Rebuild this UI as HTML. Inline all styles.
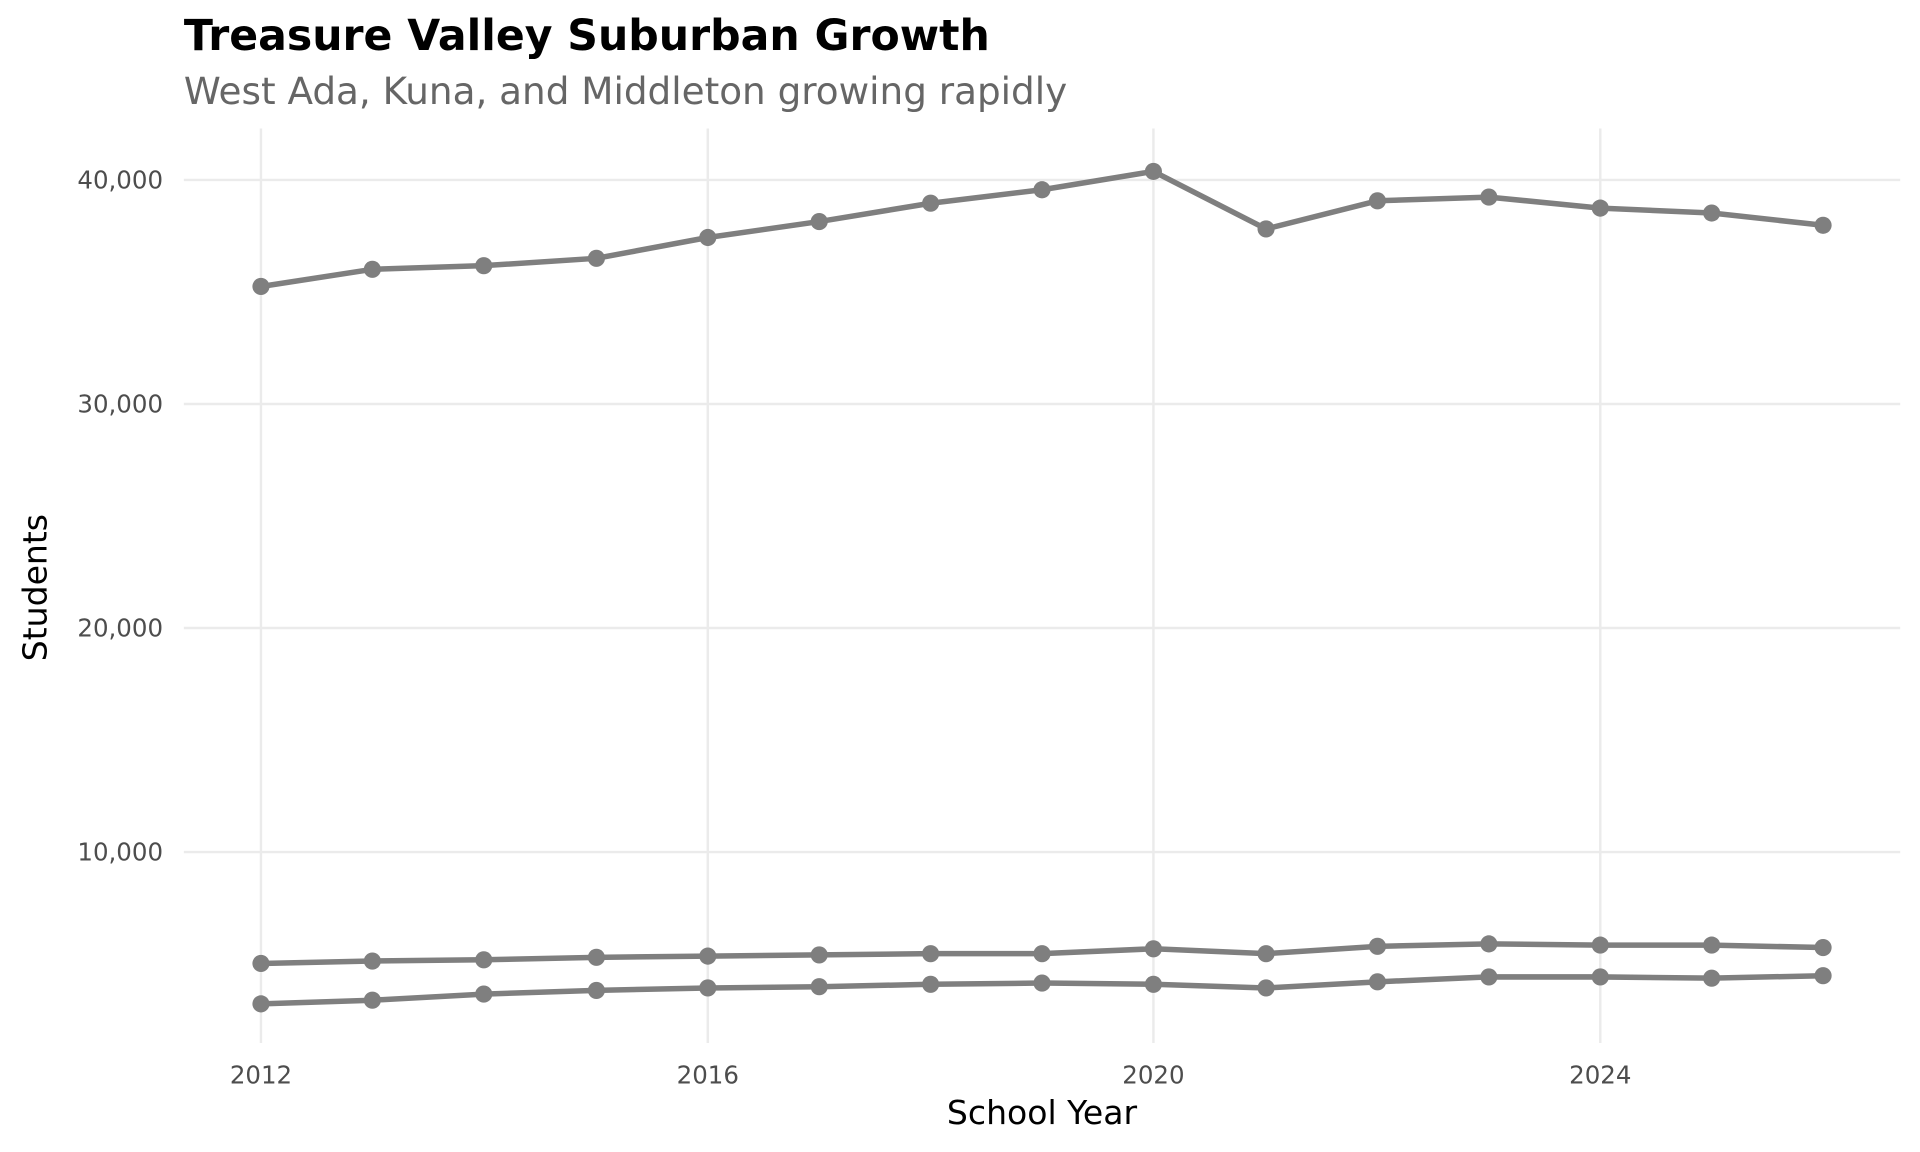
<!DOCTYPE html>
<html><head><meta charset="utf-8"><style>
html,body{margin:0;padding:0;background:#fff;}
svg{display:block;}
text{font-family:"DejaVu Sans","Liberation Sans",sans-serif;}
</style></head><body>
<svg width="1920" height="1152" viewBox="0 0 1568 941" xmlns="http://www.w3.org/2000/svg">
<rect width="1568" height="941" fill="#fff"/>
<g stroke="#ebebeb" stroke-width="2">
<line x1="150" x2="1552" y1="147" y2="147"/>
<line x1="150" x2="1552" y1="330" y2="330"/>
<line x1="150" x2="1552" y1="513" y2="513"/>
<line x1="150" x2="1552" y1="696" y2="696"/>
<line x1="213" x2="213" y1="105" y2="852"/>
<line x1="578" x2="578" y1="105" y2="852"/>
<line x1="942" x2="942" y1="105" y2="852"/>
<line x1="1307" x2="1307" y1="105" y2="852"/>
</g>
<g fill="none" stroke="#7f7f7f" stroke-width="4.5" stroke-linejoin="round">
<polyline points="213,234 304,220 395,217 487,211 578,194 669,181 760,166 851,155 942,140 1034,187 1125,164 1216,161 1307,170 1398,174 1489,184"/>
<polyline points="213,787 304,785 395,784 487,782 578,781 669,780 760,779 851,779 942,775 1034,779 1125,773 1216,771 1307,772 1398,772 1489,774"/>
<polyline points="213,820 304,817 395,812 487,809 578,807 669,806 760,804 851,803 942,804 1034,807 1125,802 1216,798 1307,798 1398,799 1489,797"/>
</g>
<g fill="#7f7f7f">
<circle cx="213" cy="234" r="7"/><circle cx="304" cy="220" r="7"/><circle cx="395" cy="217" r="7"/><circle cx="487" cy="211" r="7"/><circle cx="578" cy="194" r="7"/><circle cx="669" cy="181" r="7"/><circle cx="760" cy="166" r="7"/><circle cx="851" cy="155" r="7"/><circle cx="942" cy="140" r="7"/><circle cx="1034" cy="187" r="7"/><circle cx="1125" cy="164" r="7"/><circle cx="1216" cy="161" r="7"/><circle cx="1307" cy="170" r="7"/><circle cx="1398" cy="174" r="7"/><circle cx="1489" cy="184" r="7"/>
<circle cx="213" cy="787" r="7"/><circle cx="304" cy="785" r="7"/><circle cx="395" cy="784" r="7"/><circle cx="487" cy="782" r="7"/><circle cx="578" cy="781" r="7"/><circle cx="669" cy="780" r="7"/><circle cx="760" cy="779" r="7"/><circle cx="851" cy="779" r="7"/><circle cx="942" cy="775" r="7"/><circle cx="1034" cy="779" r="7"/><circle cx="1125" cy="773" r="7"/><circle cx="1216" cy="771" r="7"/><circle cx="1307" cy="772" r="7"/><circle cx="1398" cy="772" r="7"/><circle cx="1489" cy="774" r="7"/>
<circle cx="213" cy="820" r="7"/><circle cx="304" cy="817" r="7"/><circle cx="395" cy="812" r="7"/><circle cx="487" cy="809" r="7"/><circle cx="578" cy="807" r="7"/><circle cx="669" cy="806" r="7"/><circle cx="760" cy="804" r="7"/><circle cx="851" cy="803" r="7"/><circle cx="942" cy="804" r="7"/><circle cx="1034" cy="807" r="7"/><circle cx="1125" cy="802" r="7"/><circle cx="1216" cy="798" r="7"/><circle cx="1307" cy="798" r="7"/><circle cx="1398" cy="799" r="7"/><circle cx="1489" cy="797" r="7"/>
</g>
<g fill="#4d4d4d" font-size="20" text-anchor="end">
<text x="133" y="154">40,000</text>
<text x="133" y="337">30,000</text>
<text x="133" y="520">20,000</text>
<text x="133" y="703">10,000</text>
</g>
<g fill="#4d4d4d" font-size="20" text-anchor="middle">
<text x="213" y="885">2012</text>
<text x="578" y="885">2016</text>
<text x="942" y="885">2020</text>
<text x="1307" y="885">2024</text>
</g>
<text x="851" y="918" font-size="27" text-anchor="middle" fill="#000">School Year</text>
<text transform="translate(38,480) rotate(-90)" font-size="27" text-anchor="middle" fill="#000">Students</text>
<text x="150" y="41" font-size="34.8" font-weight="bold" fill="#000">Treasure Valley Suburban Growth</text>
<text x="150" y="85" font-size="30.5" fill="#666">West Ada, Kuna, and Middleton growing rapidly</text>
</svg>
</body></html>
